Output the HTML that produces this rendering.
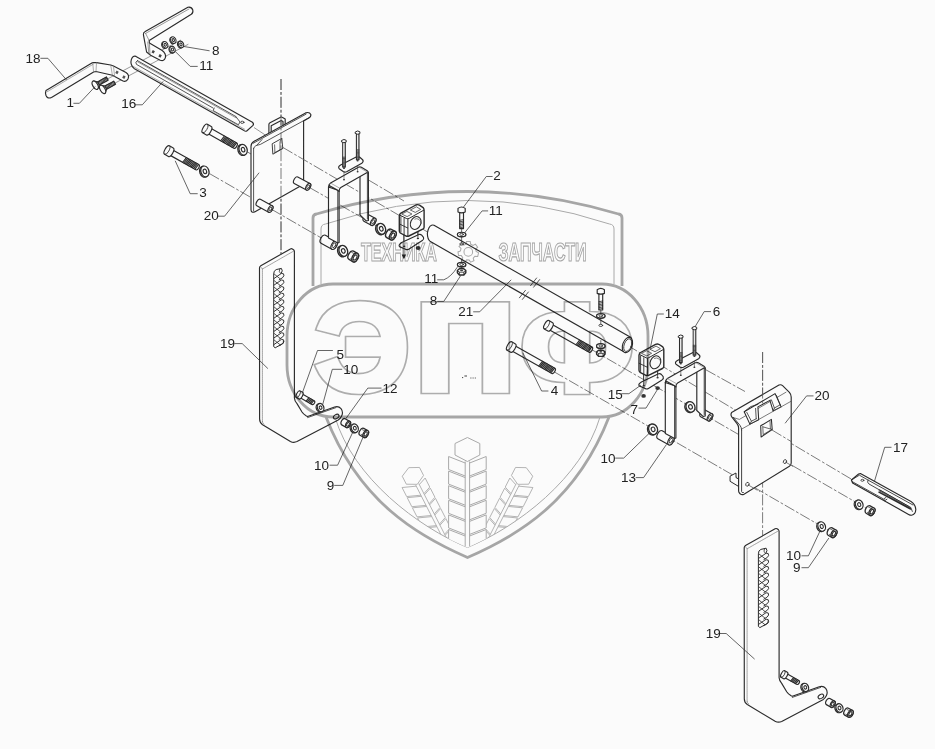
<!DOCTYPE html>
<html><head><meta charset="utf-8"><title>Схема</title>
<style>
html,body{margin:0;padding:0;background:#fbfbfb;overflow:hidden;}
svg{display:block;}
.wm{fill:none;stroke:#a9a9a9;stroke-width:2.8;stroke-linejoin:round;}
.wt{fill:none;stroke:#acacac;stroke-width:1;}
.wl{fill:none;stroke:#b0b0b0;stroke-width:1.6;font-family:"Liberation Sans",sans-serif;font-weight:bold;}
.p{fill:#fbfbfb;stroke:#2b2b2b;stroke-width:1.15;stroke-linejoin:round;stroke-linecap:round;}
.n{fill:none;stroke:#2b2b2b;stroke-width:1.15;stroke-linejoin:round;stroke-linecap:round;}
.t{fill:none;stroke:#777;stroke-width:.6;stroke-linecap:round;}
.ax{fill:none;stroke:#5a5a5a;stroke-width:.8;stroke-dasharray:11 2 2.8 2;}
.ld{fill:none;stroke:#333;stroke-width:.75;}
.lb{font-family:"Liberation Sans",sans-serif;font-size:13.5px;fill:#222;}
</style></head>
<body>
<svg width="935" height="749" viewBox="0 0 935 749">
<rect width="935" height="749" fill="#fbfbfb"/>
<!-- PARTS -->
<path class="ax" d="M283,147.5 L431,234"/>
<path class="ax" d="M627.6,345.4 L766,428.5 L852,479.5"/>
<path class="ax" d="M247.5,152 L395,236.5"/>
<path class="ax" d="M209.5,173.6 L357,258.5"/>
<path class="ax" d="M368.5,180 L404,201"/>
<path class="ax" d="M281,79 V256"/>
<path class="ax" d="M762.6,352 V540"/>
<path class="ax" d="M591.5,349.5 L871,511"/>
<path class="ax" d="M553.6,371.5 L834,533.5"/>
<path class="ax" d="M705.9,369.8 L745,391.5"/>
<path class="ld" d="M107,79.2 L181,40 M114.4,83.4 L188.4,44.2 M254,127.5 L266,135.5" style="stroke:#555;stroke-width:.6"/>
<path class="p" d="M46,90.5 L92.7,62.6 L96.5,62.6 L110.7,65 L113.5,66 L126,72.5 Q129.8,75 128,79 Q126,82.5 122.5,80.7 L112.4,75.3 L96,71.5 L93.6,72 L51.5,97.5 Q47.5,99.2 46,95.5 Q45,92.5 46,90.5 Z"/>
<path class="t" d="M46.8,92 L93.2,64.2 M92.7,62.6 L93.6,72 M96.5,62.6 L96,71.5 M110.7,65 L112.4,75.3 M113.5,66 L114.6,76.4"/>
<rect x="115.8" y="71" width="2.4" height="2.8" fill="#555" transform="rotate(28 117 72.4)"/><rect x="122.7" y="75.7" width="2.4" height="2.8" fill="#555" transform="rotate(28 123.9 77.1)"/>
<path class="p" d="M145.2,31.4 L187.9,7.2 Q191.5,6.5 192.8,10 Q193.4,12.8 191.3,14.3 L149.2,40.6 L149.4,43 L161.8,50.2 Q166.4,53.4 165.4,57.6 Q164,61.8 160.2,60.2 L150.6,55.2 L146.6,52 L143.4,34.6 Q143.2,32.4 145.2,31.4 Z"/>
<path class="t" d="M145.6,33.4 L189,9 M149.2,40.6 L145.6,33.4 M149.4,43 L150,54.6 M147.8,42 L148.8,53.6" style="stroke:#555"/>
<rect x="152" y="50.4" width="2.4" height="2.8" fill="#444" transform="rotate(28 153.2 51.8)"/><rect x="158.9" y="54.5" width="2.4" height="2.8" fill="#444" transform="rotate(28 160.1 55.9)"/>
<g transform="translate(95.2,85.2) rotate(-28.81)"><path class="p" d="M3,-1.8 H13.8 V1.8 H3 Z"/><path class="n" d="M4.5,-1.8 L3.7,1.8 M5.8,-1.8 L5.0,1.8 M7.1,-1.8 L6.3,1.8 M8.4,-1.8 L7.6,1.8 M9.7,-1.8 L8.9,1.8 M11.0,-1.8 L10.2,1.8 M12.3,-1.8 L11.5,1.8 M13.6,-1.8 L12.8,1.8 " style="stroke-width:.9"/><path class="p" d="M0,-4.6 L3.6,-1.8 V1.8 L0,4.6 Z"/><ellipse class="p" cx="0" cy="0" rx="2.4" ry="4.6"/></g>
<g transform="translate(102.6,89.4) rotate(-28.81)"><path class="p" d="M3,-1.8 H13.8 V1.8 H3 Z"/><path class="n" d="M4.5,-1.8 L3.7,1.8 M5.8,-1.8 L5.0,1.8 M7.1,-1.8 L6.3,1.8 M8.4,-1.8 L7.6,1.8 M9.7,-1.8 L8.9,1.8 M11.0,-1.8 L10.2,1.8 M12.3,-1.8 L11.5,1.8 M13.6,-1.8 L12.8,1.8 " style="stroke-width:.9"/><path class="p" d="M0,-4.6 L3.6,-1.8 V1.8 L0,4.6 Z"/><ellipse class="p" cx="0" cy="0" rx="2.4" ry="4.6"/></g>
<g transform="translate(165.2,44.8) rotate(-25)"><ellipse class="p" cx="-.9" cy="0" rx="2.6" ry="3.4" style="stroke-width:1.05"/><ellipse class="p" cx="0" cy="0" rx="2.6" ry="3.4" style="stroke-width:1.05"/><ellipse class="p" cx="0" cy="0" rx="1.1" ry="1.5" style="stroke-width:1"/></g>
<g transform="translate(173.3,40.1) rotate(-25)"><ellipse class="p" cx="-.9" cy="0" rx="2.6" ry="3.4" style="stroke-width:1.05"/><ellipse class="p" cx="0" cy="0" rx="2.6" ry="3.4" style="stroke-width:1.05"/><ellipse class="p" cx="0" cy="0" rx="1.1" ry="1.5" style="stroke-width:1"/></g>
<g transform="translate(172.5,49.5) rotate(-25)"><ellipse class="p" cx="-.9" cy="0" rx="2.6" ry="3.4" style="stroke-width:1.05"/><ellipse class="p" cx="0" cy="0" rx="2.6" ry="3.4" style="stroke-width:1.05"/><ellipse class="p" cx="0" cy="0" rx="1.1" ry="1.5" style="stroke-width:1"/></g>
<g transform="translate(181,44.4) rotate(-25)"><ellipse class="p" cx="-.9" cy="0" rx="2.6" ry="3.4" style="stroke-width:1.05"/><ellipse class="p" cx="0" cy="0" rx="2.6" ry="3.4" style="stroke-width:1.05"/><ellipse class="p" cx="0" cy="0" rx="1.1" ry="1.5" style="stroke-width:1"/></g>
<path class="p" d="M136,56.4 L252.4,122.3 Q254.2,123.8 253,125.4 L247,130.8 Q245.6,131.8 244,130.6 L134,68.4 Q129.8,64.5 131.3,59.6 Q133,55.2 136,56.4 Z"/>
<path class="n" d="M137.4,60.6 Q134.5,62 136.5,64.4 L213,108 M137.4,60.6 L236,116.6" style="stroke-width:.8"/>
<path class="t" d="M137.6,61.8 L236,117.8" style="stroke:#555"/>
<path class="t" d="M132.8,66.2 L244.6,129.2"/>
<path class="n" d="M214.2,108 L213.2,110.6 L238.4,124.8 L240,122 L236.2,117" style="stroke-width:.8"/>
<ellipse class="p" cx="242.3" cy="122.3" rx="1.7" ry="1.1" style="stroke-width:.8"/>
<g transform="translate(205,128.5) rotate(29.42)"><path class="p" d="M4.4,-3.0 L34.8,-3.0 Q36.4,-3.0 36.4,0 Q36.4,3.0 34.8,3.0 L4.4,3.0 Z"/><rect x="19.80" y="-2.5" width="15.00" height="5" fill="#a8a8a8"/><path class="t" d="M34.60,-3.0 L33.60,3.0 M33.20,-3.0 L32.20,3.0 M31.80,-3.0 L30.80,3.0 M30.40,-3.0 L29.40,3.0 M29.00,-3.0 L28.00,3.0 M27.60,-3.0 L26.60,3.0 M26.20,-3.0 L25.20,3.0 M24.80,-3.0 L23.80,3.0 M23.40,-3.0 L22.40,3.0 M22.00,-3.0 L21.00,3.0 M20.60,-3.0 L19.60,3.0 " style="stroke:#222;stroke-width:.9"/><path class="p" d="M0,-4.9 L4.4,-4.9 A2.06,4.9 0 0 1 4.4,4.9 L0,4.9 A2.06,4.9 0 0 1 0,-4.9 Z"/><path class="n" d="M0,-4.9 A2.06,4.9 0 0 1 0,4.9" style="stroke-width:.8"/></g>
<g transform="translate(243.1,149.7) rotate(-20)"><ellipse class="p" cx="-1.2" cy="0" rx="4" ry="5.5" style="stroke-width:1.3"/><ellipse class="p" cx="0" cy="0" rx="4" ry="5.5" style="stroke-width:1.3"/><ellipse class="p" cx="0" cy="0" rx="1.68" ry="2.31" style="stroke-width:1.10"/></g>
<g transform="translate(167,150.1) rotate(29.42)"><path class="p" d="M4.4,-3.0 L34.8,-3.0 Q36.4,-3.0 36.4,0 Q36.4,3.0 34.8,3.0 L4.4,3.0 Z"/><rect x="19.80" y="-2.5" width="15.00" height="5" fill="#a8a8a8"/><path class="t" d="M34.60,-3.0 L33.60,3.0 M33.20,-3.0 L32.20,3.0 M31.80,-3.0 L30.80,3.0 M30.40,-3.0 L29.40,3.0 M29.00,-3.0 L28.00,3.0 M27.60,-3.0 L26.60,3.0 M26.20,-3.0 L25.20,3.0 M24.80,-3.0 L23.80,3.0 M23.40,-3.0 L22.40,3.0 M22.00,-3.0 L21.00,3.0 M20.60,-3.0 L19.60,3.0 " style="stroke:#222;stroke-width:.9"/><path class="p" d="M0,-4.9 L4.4,-4.9 A2.06,4.9 0 0 1 4.4,4.9 L0,4.9 A2.06,4.9 0 0 1 0,-4.9 Z"/><path class="n" d="M0,-4.9 A2.06,4.9 0 0 1 0,4.9" style="stroke-width:.8"/></g>
<g transform="translate(204.9,171.4) rotate(-20)"><ellipse class="p" cx="-1.2" cy="0" rx="4" ry="5.5" style="stroke-width:1.3"/><ellipse class="p" cx="0" cy="0" rx="4" ry="5.5" style="stroke-width:1.3"/><ellipse class="p" cx="0" cy="0" rx="1.68" ry="2.31" style="stroke-width:1.10"/></g>
<path class="p" d="M268.9,133.5 V124.4 Q268.9,123.4 270,122.8 L280.6,117.2 Q281.6,116.8 282.6,117.4 L285.2,119 V128 L283,129 V121.4 L281.2,120.4 L271.2,125.8 V133 Z"/>
<path class="p" d="M251,146.5 Q251,143 253.8,141.4 L305.6,112.9 Q309.4,111.6 310.8,114.4 Q311.2,116.6 309.2,117.8 L303.6,121 V184.2 L254.6,211.9 Q251.2,213.2 251,209.6 Z"/>
<path class="n" d="M253.6,148.5 V210.8 M253.6,148.5 Q254,146.6 256,145.6 L260.4,144.4 L309.6,117.4 M257,145 L262,139.6 M253,143.4 L306,114.2" style="stroke-width:.8"/>
<path class="n" d="M272.5,143.6 L281.8,138.4 L282.8,148.6 L273.2,154 Z" style="stroke-width:.9"/>
<path class="n" d="M274.6,144.8 L274.9,152.6 M274.9,152.6 L282.6,148.2 M281.8,138.4 L280,141.8 V149.6" style="stroke-width:.7"/>
<g transform="translate(258.6,202.6) rotate(28.47)"><path class="p" d="M0,-3.7 H13.42 A2.04,3.7 0 0 1 13.42,3.7 H0 A2.04,3.7 0 0 1 0,-3.7 Z"/><ellipse class="p" cx="13.42" cy="0" rx="2.04" ry="3.7"/><ellipse class="p" cx="13.42" cy="0" rx="1.12" ry="2.15" style="stroke-width:0.80"/></g>
<g transform="translate(296,180.2) rotate(28.41)"><path class="p" d="M0,-3.7 H13.87 A2.04,3.7 0 0 1 13.87,3.7 H0 A2.04,3.7 0 0 1 0,-3.7 Z"/><ellipse class="p" cx="13.87" cy="0" rx="2.04" ry="3.7"/><ellipse class="p" cx="13.87" cy="0" rx="1.12" ry="2.15" style="stroke-width:0.80"/></g>
<g transform="translate(0,0)">
<g transform="translate(702.6,413.2) rotate(28.99)"><path class="p" d="M0,-4.0 H8.46 A2.20,4.0 0 0 1 8.46,4.0 H0 A2.20,4.0 0 0 1 0,-4.0 Z"/><ellipse class="p" cx="8.46" cy="0" rx="2.20" ry="4.0"/><ellipse class="p" cx="8.46" cy="0" rx="1.21" ry="2.32" style="stroke-width:0.80"/></g>
<path class="p" d="M696.8,366 V410.5 L703,416.4 L705.2,416 V368 Z"/>
<path class="n" d="M704.2,368.5 V414.5" style="stroke-width:.8"/>
<g transform="translate(660,434.8) rotate(28.43)"><path class="p" d="M0,-4.6 H12.39 A2.53,4.6 0 0 1 12.39,4.6 H0 A2.53,4.6 0 0 1 0,-4.6 Z"/><ellipse class="p" cx="12.39" cy="0" rx="2.53" ry="4.6"/><ellipse class="p" cx="12.39" cy="0" rx="1.39" ry="2.67" style="stroke-width:0.80"/></g>
<path class="p" d="M665.3,382.5 V433.5 L674.6,438.6 L675.9,438 V386.5 L674.6,385.6 Z"/>
<path class="n" d="M674.6,386 V438.4" style="stroke-width:.9"/>
<path class="p" d="M665.3,382.8 Q665.3,380 667.4,378.6 L695.2,362.7 Q696.8,362 698.2,362.8 L704,366.3 Q705.3,367.2 705.2,369 L704.4,367.8 L677.6,382.9 Q675.9,384 675.9,387 L674.6,385.8 L666.4,381.2 Z"/>
<path class="t" d="M667.4,378.6 L676.4,383.6 M695.6,362.6 L704.4,367.8"/>
<path class="t" d="M680.8,364 V375 M694.4,356 V367" style="stroke:#444"/>
<ellipse cx="680.8" cy="375.2" rx="1" ry=".7" fill="#333"/><ellipse cx="694.4" cy="367.2" rx="1" ry=".7" fill="#333"/>
<path class="p" d="M677.4,360.4 L693,352.4 Q695,351.6 696.6,352.8 L699.4,355.2 Q700.8,357 698.6,358.8 L683.4,367.2 Q681.6,368 680,367 L676,364.2 Q674.4,362.2 677.4,360.4 Z"/>
<ellipse cx="680.8" cy="363.7" rx="1.1" ry=".8" fill="#333"/><ellipse cx="694.4" cy="356.2" rx="1.1" ry=".8" fill="#333"/>
<path class="p" d="M679.5,337.6 V362.6 H682.0999999999999 V337.6 Z" style="stroke-width:1.05;fill:#c4c4c4"/>
<path class="t" d="M679.5,361.8 H682.0999999999999 M679.5,360.5 H682.0999999999999 M679.5,359.2 H682.0999999999999 M679.5,357.9 H682.0999999999999 M679.5,356.6 H682.0999999999999 M679.5,355.3 H682.0999999999999 M679.5,354.0 H682.0999999999999 M679.5,352.7 H682.0999999999999 " style="stroke-width:.7;stroke:#333"/>
<path class="t" d="M680.5999999999999,338 V351.6" style="stroke:#fff;stroke-width:.7"/>
<path class="p" d="M678.5999999999999,335.8 Q680.8,334 683.0,335.8 V337.6 Q680.8,339 678.5999999999999,337.6 Z" style="stroke-width:1"/>
<path class="p" d="M693.2,329.1 V355.2 H695.8 V329.1 Z" style="stroke-width:1.05;fill:#c4c4c4"/>
<path class="t" d="M693.2,354.4 H695.8 M693.2,353.1 H695.8 M693.2,351.8 H695.8 M693.2,350.5 H695.8 M693.2,349.2 H695.8 M693.2,347.9 H695.8 M693.2,346.6 H695.8 M693.2,345.3 H695.8 " style="stroke-width:.7;stroke:#333"/>
<path class="t" d="M694.3,329.5 V344.2" style="stroke:#fff;stroke-width:.7"/>
<path class="p" d="M692.3,327.3 Q694.5,325.5 696.7,327.3 V329.1 Q694.5,330.5 692.3,329.1 Z" style="stroke-width:1"/>
</g>
<g transform="translate(-336.8,-195.5)">
<g transform="translate(702.6,413.2) rotate(28.99)"><path class="p" d="M0,-4.0 H8.46 A2.20,4.0 0 0 1 8.46,4.0 H0 A2.20,4.0 0 0 1 0,-4.0 Z"/><ellipse class="p" cx="8.46" cy="0" rx="2.20" ry="4.0"/><ellipse class="p" cx="8.46" cy="0" rx="1.21" ry="2.32" style="stroke-width:0.80"/></g>
<path class="p" d="M696.8,366 V410.5 L703,416.4 L705.2,416 V368 Z"/>
<path class="n" d="M704.2,368.5 V414.5" style="stroke-width:.8"/>
<g transform="translate(660,434.8) rotate(28.43)"><path class="p" d="M0,-4.6 H12.39 A2.53,4.6 0 0 1 12.39,4.6 H0 A2.53,4.6 0 0 1 0,-4.6 Z"/><ellipse class="p" cx="12.39" cy="0" rx="2.53" ry="4.6"/><ellipse class="p" cx="12.39" cy="0" rx="1.39" ry="2.67" style="stroke-width:0.80"/></g>
<path class="p" d="M665.3,382.5 V433.5 L674.6,438.6 L675.9,438 V386.5 L674.6,385.6 Z"/>
<path class="n" d="M674.6,386 V438.4" style="stroke-width:.9"/>
<path class="p" d="M665.3,382.8 Q665.3,380 667.4,378.6 L695.2,362.7 Q696.8,362 698.2,362.8 L704,366.3 Q705.3,367.2 705.2,369 L704.4,367.8 L677.6,382.9 Q675.9,384 675.9,387 L674.6,385.8 L666.4,381.2 Z"/>
<path class="t" d="M667.4,378.6 L676.4,383.6 M695.6,362.6 L704.4,367.8"/>
<path class="t" d="M680.8,364 V375 M694.4,356 V367" style="stroke:#444"/>
<ellipse cx="680.8" cy="375.2" rx="1" ry=".7" fill="#333"/><ellipse cx="694.4" cy="367.2" rx="1" ry=".7" fill="#333"/>
<path class="p" d="M677.4,360.4 L693,352.4 Q695,351.6 696.6,352.8 L699.4,355.2 Q700.8,357 698.6,358.8 L683.4,367.2 Q681.6,368 680,367 L676,364.2 Q674.4,362.2 677.4,360.4 Z"/>
<ellipse cx="680.8" cy="363.7" rx="1.1" ry=".8" fill="#333"/><ellipse cx="694.4" cy="356.2" rx="1.1" ry=".8" fill="#333"/>
<path class="p" d="M679.5,337.6 V362.6 H682.0999999999999 V337.6 Z" style="stroke-width:1.05;fill:#c4c4c4"/>
<path class="t" d="M679.5,361.8 H682.0999999999999 M679.5,360.5 H682.0999999999999 M679.5,359.2 H682.0999999999999 M679.5,357.9 H682.0999999999999 M679.5,356.6 H682.0999999999999 M679.5,355.3 H682.0999999999999 M679.5,354.0 H682.0999999999999 M679.5,352.7 H682.0999999999999 " style="stroke-width:.7;stroke:#333"/>
<path class="t" d="M680.5999999999999,338 V351.6" style="stroke:#fff;stroke-width:.7"/>
<path class="p" d="M678.5999999999999,335.8 Q680.8,334 683.0,335.8 V337.6 Q680.8,339 678.5999999999999,337.6 Z" style="stroke-width:1"/>
<path class="p" d="M693.2,329.1 V355.2 H695.8 V329.1 Z" style="stroke-width:1.05;fill:#c4c4c4"/>
<path class="t" d="M693.2,354.4 H695.8 M693.2,353.1 H695.8 M693.2,351.8 H695.8 M693.2,350.5 H695.8 M693.2,349.2 H695.8 M693.2,347.9 H695.8 M693.2,346.6 H695.8 M693.2,345.3 H695.8 " style="stroke-width:.7;stroke:#333"/>
<path class="t" d="M694.3,329.5 V344.2" style="stroke:#fff;stroke-width:.7"/>
<path class="p" d="M692.3,327.3 Q694.5,325.5 696.7,327.3 V329.1 Q694.5,330.5 692.3,329.1 Z" style="stroke-width:1"/>
</g>
<g transform="translate(343.3,250.9) rotate(-20)"><ellipse class="p" cx="-1.4" cy="0" rx="4.2" ry="5.6" style="stroke-width:1.35"/><ellipse class="p" cx="0" cy="0" rx="4.2" ry="5.6" style="stroke-width:1.35"/><ellipse class="p" cx="0" cy="0" rx="1.76" ry="2.35" style="stroke-width:1.15"/></g>
<g transform="translate(351.3,255.34999999999997) rotate(28.93)"><path class="p" style="stroke-width:1.4" d="M0,-4.7 H4.34 A2.82,4.7 0 0 1 4.34,4.7 H0 A2.82,4.7 0 0 1 0,-4.7 Z"/><ellipse class="p" style="stroke-width:1.4" cx="4.34" cy="0" rx="2.82" ry="4.7"/><ellipse class="p" cx="4.34" cy="0" rx="1.55" ry="2.73" style="stroke-width:1.12"/></g>
<path class="t" d="M351.59999999999997,252.29999999999998 L355.4,254.29999999999998 M350.59999999999997,258.7 L354.2,260.7" style="stroke:#333;stroke-width:.7"/>
<g transform="translate(381.3,228.8) rotate(-20)"><ellipse class="p" cx="-1.4" cy="0" rx="4.2" ry="5.6" style="stroke-width:1.35"/><ellipse class="p" cx="0" cy="0" rx="4.2" ry="5.6" style="stroke-width:1.35"/><ellipse class="p" cx="0" cy="0" rx="1.76" ry="2.35" style="stroke-width:1.15"/></g>
<g transform="translate(389.0,233.45) rotate(28.93)"><path class="p" style="stroke-width:1.4" d="M0,-4.7 H4.34 A2.82,4.7 0 0 1 4.34,4.7 H0 A2.82,4.7 0 0 1 0,-4.7 Z"/><ellipse class="p" style="stroke-width:1.4" cx="4.34" cy="0" rx="2.82" ry="4.7"/><ellipse class="p" cx="4.34" cy="0" rx="1.55" ry="2.73" style="stroke-width:1.12"/></g>
<path class="t" d="M389.29999999999995,230.4 L393.09999999999997,232.4 M388.29999999999995,236.79999999999998 L391.9,238.79999999999998" style="stroke:#333;stroke-width:.7"/>
<g transform="translate(690.5,406.9) rotate(-20)"><ellipse class="p" cx="-1.2" cy="0" rx="4.4" ry="5.4" style="stroke-width:1.3"/><ellipse class="p" cx="0" cy="0" rx="4.4" ry="5.4" style="stroke-width:1.3"/><ellipse class="p" cx="0" cy="0" rx="1.85" ry="2.27" style="stroke-width:1.10"/></g>
<g transform="translate(653.1,429.3) rotate(-20)"><ellipse class="p" cx="-1.2" cy="0" rx="4.4" ry="5.4" style="stroke-width:1.3"/><ellipse class="p" cx="0" cy="0" rx="4.4" ry="5.4" style="stroke-width:1.3"/><ellipse class="p" cx="0" cy="0" rx="1.85" ry="2.27" style="stroke-width:1.10"/></g>
<g transform="translate(0,0.9)">
<path class="t" d="M643.6,372 V385 M657.6,367 V377" style="stroke:#333;stroke-width:.8"/>
<path class="p" d="M641.4,381 L658.6,372.9 Q660.2,372.4 661.4,373.6 L663.2,375.8 Q664,377.6 662,379 L648.4,387.6 Q646.8,388.6 645.2,387.6 L639.2,385 Q637.8,383.4 641.4,381 Z"/>
<ellipse cx="643.8" cy="384.8" rx="1.2" ry=".8" fill="#333"/><ellipse cx="657.6" cy="376.9" rx="1.2" ry=".8" fill="#333"/>
<path class="t" d="M643.6,372 V384 M657.6,367 V376.4" style="stroke:#333;stroke-width:.8"/>
<path class="p" d="M639,354.4 Q639,352.6 640.6,351.6 L655.6,343.4 Q657.4,342.6 659.2,343.6 L662.8,346 Q663.8,347 663.8,348.8 V365.6 Q663.8,366.8 662.4,367.6 L648.6,374.4 Q647,375 645.4,374.2 L640,371.4 Q639,370.6 639,369.2 Z" style="stroke-width:1.4"/>
<path class="n" d="M639.6,353.6 L646.4,357 Q647.6,357.4 648.8,356.8 L663.4,348.6 M647.6,357.6 V374.4" style="stroke-width:1"/>
<path class="n" d="M640.6,355 V370.6 M643.8,356.8 V373 M639.2,362.4 L647.4,366.4" style="stroke-width:.9"/>
<path class="n" d="M641.8,352.6 L646.8,355 L651.6,352.4 L647,350 Z M650.4,348.6 L655,350.8 L660.4,347.8 L656.4,345.4 Z" style="stroke-width:.7"/>
<g transform="translate(655.4,361.4) rotate(24)"><ellipse class="p" cx="0" cy="0" rx="5.1" ry="6.7" style="stroke-width:1.1"/><path class="t" d="M-3.4,-4.4 A5.1,6.7 0 0 1 4.2,-3" transform="translate(.9,1.2)" style="stroke:#444"/></g>
<ellipse cx="643.6" cy="395" rx="2.3" ry="1.9" fill="#333"/><ellipse cx="657.6" cy="387.2" rx="2.3" ry="1.9" fill="#333"/>
</g>
<g transform="translate(-239.7,-138.4)">
<path class="t" d="M643.6,372 V385 M657.6,367 V377" style="stroke:#333;stroke-width:.8"/>
<path class="p" d="M641.4,381 L658.6,372.9 Q660.2,372.4 661.4,373.6 L663.2,375.8 Q664,377.6 662,379 L648.4,387.6 Q646.8,388.6 645.2,387.6 L639.2,385 Q637.8,383.4 641.4,381 Z"/>
<ellipse cx="643.8" cy="384.8" rx="1.2" ry=".8" fill="#333"/><ellipse cx="657.6" cy="376.9" rx="1.2" ry=".8" fill="#333"/>
<path class="t" d="M643.6,372 V384 M657.6,367 V376.4" style="stroke:#333;stroke-width:.8"/>
<path class="p" d="M639,354.4 Q639,352.6 640.6,351.6 L655.6,343.4 Q657.4,342.6 659.2,343.6 L662.8,346 Q663.8,347 663.8,348.8 V365.6 Q663.8,366.8 662.4,367.6 L648.6,374.4 Q647,375 645.4,374.2 L640,371.4 Q639,370.6 639,369.2 Z" style="stroke-width:1.4"/>
<path class="n" d="M639.6,353.6 L646.4,357 Q647.6,357.4 648.8,356.8 L663.4,348.6 M647.6,357.6 V374.4" style="stroke-width:1"/>
<path class="n" d="M640.6,355 V370.6 M643.8,356.8 V373 M639.2,362.4 L647.4,366.4" style="stroke-width:.9"/>
<path class="n" d="M641.8,352.6 L646.8,355 L651.6,352.4 L647,350 Z M650.4,348.6 L655,350.8 L660.4,347.8 L656.4,345.4 Z" style="stroke-width:.7"/>
<g transform="translate(655.4,361.4) rotate(24)"><ellipse class="p" cx="0" cy="0" rx="5.1" ry="6.7" style="stroke-width:1.1"/><path class="t" d="M-3.4,-4.4 A5.1,6.7 0 0 1 4.2,-3" transform="translate(.9,1.2)" style="stroke:#444"/></g>
<path class="t" d="M643.6,386 V396" style="stroke:#333;stroke-width:.8"/><path d="M641.4,393 H645.8 L643.6,397.6 Z" fill="#222"/>
<ellipse cx="657.8" cy="386.4" rx="2.4" ry="2" fill="#333"/>
</g>
<path class="p" d="M434,225.3 L631,337.4 L623.4,351.4 L430.4,241.6 Q427.2,239 427.4,233 Q428.4,226.4 431.6,225.2 Q432.8,224.8 434,225.3 Z"/>
<g transform="translate(627.4,345) rotate(20)"><ellipse class="p" cx="0" cy="0" rx="4.7" ry="7.9"/><ellipse class="p" cx="0.4" cy="0" rx="3.6" ry="6.6" style="stroke-width:.8"/></g>
<path class="n" d="M530.6,285.6 L536.6,278 M533.6,287.2 L539.6,279.6 M519.4,297.8 L525.4,290.4 M522.4,299.4 L528.4,292" style="stroke-width:.8"/>
<path class="t" d="M461.6,227.2 V244.2 M461.6,259.2 V273.2" style="stroke:#333;stroke-width:.7"/>
<g transform="translate(461.6,207.2)"><path class="p" d="M-1.9,4.8 V21.4 H1.9 V4.8 Z"/><path class="t" d="M-1.9,20.60 L1.9,19.90 M-1.9,19.10 L1.9,18.40 M-1.9,17.60 L1.9,16.90 M-1.9,16.10 L1.9,15.40 M-1.9,14.60 L1.9,13.90 M-1.9,13.10 L1.9,12.40 " style="stroke:#222;stroke-width:.8"/><path class="p" d="M-3.6,1.2 Q0,-1.6 3.6,1.2 V4.8 Q0,6.4 -3.6,4.8 Z"/></g>
<ellipse class="p" cx="461.6" cy="234.79999999999998" rx="4.2" ry="2.2"/><ellipse class="p" cx="461.6" cy="234.39999999999998" rx="4.2" ry="2.2"/><ellipse class="p" cx="461.6" cy="234.39999999999998" rx="1.8" ry="1" style="stroke-width:.8"/>
<ellipse class="p" cx="461.6" cy="244.0" rx="1.9" ry="1.1" style="stroke-width:.8"/>
<ellipse class="p" cx="461.6" cy="265.0" rx="4.2" ry="2.2"/><ellipse class="p" cx="461.6" cy="264.5" rx="4.2" ry="2.2"/><ellipse class="p" cx="461.6" cy="264.5" rx="1.8" ry="1" style="stroke-width:.8"/>
<path class="p" d="M457.40000000000003,270.59999999999997 L459.40000000000003,268.8 H463.8 L465.8,270.59999999999997 V272.79999999999995 L463.8,275.0 H459.40000000000003 L457.40000000000003,272.79999999999995 Z" style="stroke-width:1.4"/>
<path class="n" d="M457.40000000000003,270.59999999999997 L459.40000000000003,272.2 H463.8 L465.8,270.59999999999997 M459.40000000000003,272.2 V274.79999999999995 M463.8,272.2 V274.79999999999995" style="stroke-width:.8"/>
<ellipse cx="461.6" cy="270.5" rx="1.6" ry=".8" fill="#444"/>
<path class="t" d="M600.8,308.6 V325.6 M600.8,340.6 V354.6" style="stroke:#333;stroke-width:.7"/>
<g transform="translate(600.8,288.6)"><path class="p" d="M-1.9,4.8 V21.4 H1.9 V4.8 Z"/><path class="t" d="M-1.9,20.60 L1.9,19.90 M-1.9,19.10 L1.9,18.40 M-1.9,17.60 L1.9,16.90 M-1.9,16.10 L1.9,15.40 M-1.9,14.60 L1.9,13.90 M-1.9,13.10 L1.9,12.40 " style="stroke:#222;stroke-width:.8"/><path class="p" d="M-3.6,1.2 Q0,-1.6 3.6,1.2 V4.8 Q0,6.4 -3.6,4.8 Z"/></g>
<ellipse class="p" cx="600.8" cy="316.20000000000005" rx="4.2" ry="2.2"/><ellipse class="p" cx="600.8" cy="315.8" rx="4.2" ry="2.2"/><ellipse class="p" cx="600.8" cy="315.8" rx="1.8" ry="1" style="stroke-width:.8"/>
<ellipse class="p" cx="600.8" cy="325.40000000000003" rx="1.9" ry="1.1" style="stroke-width:.8"/>
<ellipse class="p" cx="600.8" cy="346.40000000000003" rx="4.2" ry="2.2"/><ellipse class="p" cx="600.8" cy="345.90000000000003" rx="4.2" ry="2.2"/><ellipse class="p" cx="600.8" cy="345.90000000000003" rx="1.8" ry="1" style="stroke-width:.8"/>
<path class="p" d="M596.5999999999999,352.0 L598.5999999999999,350.20000000000005 H603.0 L605.0,352.0 V354.20000000000005 L603.0,356.40000000000003 H598.5999999999999 L596.5999999999999,354.20000000000005 Z" style="stroke-width:1.4"/>
<path class="n" d="M596.5999999999999,352.0 L598.5999999999999,353.6 H603.0 L605.0,352.0 M598.5999999999999,353.6 V356.20000000000005 M603.0,353.6 V356.20000000000005" style="stroke-width:.8"/>
<ellipse cx="600.8" cy="351.90000000000003" rx="1.6" ry=".8" fill="#444"/>
<g transform="translate(546.6,324.8) rotate(29.42)"><path class="p" d="M4.2,-3.0 L50.5,-3.0 Q52.1,-3.0 52.1,0 Q52.1,3.0 50.5,3.0 L4.2,3.0 Z"/><rect x="35.50" y="-2.5" width="15.00" height="5" fill="#a8a8a8"/><path class="t" d="M50.30,-3.0 L49.30,3.0 M48.90,-3.0 L47.90,3.0 M47.50,-3.0 L46.50,3.0 M46.10,-3.0 L45.10,3.0 M44.70,-3.0 L43.70,3.0 M43.30,-3.0 L42.30,3.0 M41.90,-3.0 L40.90,3.0 M40.50,-3.0 L39.50,3.0 M39.10,-3.0 L38.10,3.0 M37.70,-3.0 L36.70,3.0 M36.30,-3.0 L35.30,3.0 " style="stroke:#222;stroke-width:.9"/><path class="p" d="M0,-4.8 L4.2,-4.8 A2.02,4.8 0 0 1 4.2,4.8 L0,4.8 A2.02,4.8 0 0 1 0,-4.8 Z"/><path class="n" d="M0,-4.8 A2.02,4.8 0 0 1 0,4.8" style="stroke-width:.8"/></g>
<g transform="translate(509.4,346) rotate(29.42)"><path class="p" d="M4.2,-3.0 L50.5,-3.0 Q52.1,-3.0 52.1,0 Q52.1,3.0 50.5,3.0 L4.2,3.0 Z"/><rect x="35.50" y="-2.5" width="15.00" height="5" fill="#a8a8a8"/><path class="t" d="M50.30,-3.0 L49.30,3.0 M48.90,-3.0 L47.90,3.0 M47.50,-3.0 L46.50,3.0 M46.10,-3.0 L45.10,3.0 M44.70,-3.0 L43.70,3.0 M43.30,-3.0 L42.30,3.0 M41.90,-3.0 L40.90,3.0 M40.50,-3.0 L39.50,3.0 M39.10,-3.0 L38.10,3.0 M37.70,-3.0 L36.70,3.0 M36.30,-3.0 L35.30,3.0 " style="stroke:#222;stroke-width:.9"/><path class="p" d="M0,-4.8 L4.2,-4.8 A2.02,4.8 0 0 1 4.2,4.8 L0,4.8 A2.02,4.8 0 0 1 0,-4.8 Z"/><path class="n" d="M0,-4.8 A2.02,4.8 0 0 1 0,4.8" style="stroke-width:.8"/></g>
<g transform="translate(0,0)">
<path class="p" d="M259.5,268 Q259.5,266.6 260.8,265.8 L290.4,248.9 Q291.4,248.4 292.4,249 L293.8,250 Q294.4,250.6 294.4,251.6 V398 Q294.6,401 297,403.6 L302,412 Q303.4,414.2 306.4,416 L307.6,416.5 L334.6,407 Q338.6,405.8 341,408.6 Q343.6,412 341.6,416 Q340.4,418.6 338.2,420 L297,441.6 Q293.6,443.2 290.4,441.4 L262.6,424.8 Q259.6,422.8 259.6,419 Z"/>
<path class="t" d="M262.4,269 V421.5 M260.4,266.6 L262.4,269 L293.8,251 M262.4,421.5 Q262.6,423.4 264.4,424.4" style="stroke:#666;stroke-dasharray:1.2 .8"/>
<path class="n" d="M307.6,417.6 L336,407.6" style="stroke-width:.8"/>
<path class="n" d="M281.4,273.2 Q283.2,270.6 281.4,268.4 L276.2,269.6 Q273.6,270.6 273.7,274 V346.6 L275.2,347.8 L283.4,343.2 V341" style="stroke-width:1"/>
<path class="n" d="M274.2,278.4 L281.4,273.4 Q284.4,273.0 283.9,275.8 Q283.4,277.8 279.2,279.8 M274.2,285.0 L281.4,280.0 Q284.4,279.6 283.9,282.4 Q283.4,284.4 279.2,286.4 M274.2,291.6 L281.4,286.6 Q284.4,286.2 283.9,289.0 Q283.4,291.0 279.2,293.0 M274.2,298.2 L281.4,293.2 Q284.4,292.8 283.9,295.6 Q283.4,297.6 279.2,299.6 M274.2,304.8 L281.4,299.8 Q284.4,299.4 283.9,302.2 Q283.4,304.2 279.2,306.2 M274.2,311.4 L281.4,306.4 Q284.4,306.0 283.9,308.8 Q283.4,310.8 279.2,312.8 M274.2,318.0 L281.4,313.0 Q284.4,312.6 283.9,315.4 Q283.4,317.4 279.2,319.4 M274.2,324.6 L281.4,319.6 Q284.4,319.2 283.9,322.0 Q283.4,324.0 279.2,326.0 M274.2,331.2 L281.4,326.2 Q284.4,325.8 283.9,328.6 Q283.4,330.6 279.2,332.6 M274.2,337.8 L281.4,332.8 Q284.4,332.4 283.9,335.2 Q283.4,337.2 279.2,339.2 M274.2,344.4 L281.4,339.4 Q284.4,339.0 283.9,341.8 Q283.4,343.8 279.2,345.8 " style="stroke-width:.95"/>
<path class="n" d="M274.4,274.2 L280.4,279.0 M274.4,280.8 L280.4,285.6 M274.4,287.4 L280.4,292.2 M274.4,294.0 L280.4,298.8 M274.4,300.6 L280.4,305.4 M274.4,307.2 L280.4,312.0 M274.4,313.8 L280.4,318.6 M274.4,320.4 L280.4,325.2 M274.4,327.0 L280.4,331.8 M274.4,333.6 L280.4,338.4 M274.4,340.2 L280.4,345.0 " style="stroke-width:.8"/>
<path class="n" d="M279.6,269.2 Q278.4,271.6 280.4,273.4" style="stroke-width:.8"/>
<g transform="translate(336.2,416.6) rotate(-30)"><ellipse class="p" cx="0" cy="0" rx="3" ry="2" style="stroke-width:1.1"/></g>
<g transform="translate(298.2,394.2) rotate(29.42)"><path class="p" d="M3,-2.2 L17,-2.2 Q18.6,-2.2 18.6,0 Q18.6,2.2 17,2.2 L3,2.2 Z"/><rect x="10.00" y="-1.7000000000000002" width="7.00" height="3.4000000000000004" fill="#a8a8a8"/><path class="t" d="M16.80,-2.2 L15.80,2.2 M15.40,-2.2 L14.40,2.2 M14.00,-2.2 L13.00,2.2 M12.60,-2.2 L11.60,2.2 M11.20,-2.2 L10.20,2.2 " style="stroke:#222;stroke-width:.9"/><path class="p" d="M0,-3.8 L3,-3.8 A1.60,3.8 0 0 1 3,3.8 L0,3.8 A1.60,3.8 0 0 1 0,-3.8 Z"/><path class="n" d="M0,-3.8 A1.60,3.8 0 0 1 0,3.8" style="stroke-width:.8"/></g>
<g transform="translate(320.6,407.6) rotate(-20)"><ellipse class="p" cx="-1.2" cy="0" rx="3.2" ry="4.2" style="stroke-width:1.25"/><ellipse class="p" cx="0" cy="0" rx="3.2" ry="4.2" style="stroke-width:1.25"/><ellipse class="p" cx="0" cy="0" rx="1.34" ry="1.76" style="stroke-width:1.06"/></g>
<g transform="translate(343.4,421.8) rotate(29.48)"><path class="p" style="stroke-width:1.25" d="M0,-3.5 H5.28 A2.10,3.5 0 0 1 5.28,3.5 H0 A2.10,3.5 0 0 1 0,-3.5 Z"/><ellipse class="p" style="stroke-width:1.25" cx="5.28" cy="0" rx="2.10" ry="3.5"/><ellipse class="p" cx="5.28" cy="0" rx="1.16" ry="2.03" style="stroke-width:1.00"/></g>
<g transform="translate(354.8,428.2) rotate(-20)"><ellipse class="p" cx="-1.2" cy="0" rx="3.4" ry="4.4" style="stroke-width:1.25"/><ellipse class="p" cx="0" cy="0" rx="3.4" ry="4.4" style="stroke-width:1.25"/><ellipse class="p" cx="0" cy="0" rx="1.43" ry="1.85" style="stroke-width:1.06"/></g>
<g transform="translate(361.90000000000003,431.84999999999997) rotate(28.93)"><path class="p" style="stroke-width:1.3" d="M0,-3.9 H4.34 A2.34,3.9 0 0 1 4.34,3.9 H0 A2.34,3.9 0 0 1 0,-3.9 Z"/><ellipse class="p" style="stroke-width:1.3" cx="4.34" cy="0" rx="2.34" ry="3.9"/><ellipse class="p" cx="4.34" cy="0" rx="1.29" ry="2.26" style="stroke-width:1.04"/></g>
<path class="t" d="M362.2,429.6 L366.0,431.6 M361.2,434.4 L364.8,436.4" style="stroke:#333;stroke-width:.7"/>
</g>
<g transform="translate(484.7,279.8)">
<path class="p" d="M259.5,268 Q259.5,266.6 260.8,265.8 L290.4,248.9 Q291.4,248.4 292.4,249 L293.8,250 Q294.4,250.6 294.4,251.6 V398 Q294.6,401 297,403.6 L302,412 Q303.4,414.2 306.4,416 L307.6,416.5 L334.6,407 Q338.6,405.8 341,408.6 Q343.6,412 341.6,416 Q340.4,418.6 338.2,420 L297,441.6 Q293.6,443.2 290.4,441.4 L262.6,424.8 Q259.6,422.8 259.6,419 Z"/>
<path class="t" d="M262.4,269 V421.5 M260.4,266.6 L262.4,269 L293.8,251 M262.4,421.5 Q262.6,423.4 264.4,424.4" style="stroke:#666;stroke-dasharray:1.2 .8"/>
<path class="n" d="M307.6,417.6 L336,407.6" style="stroke-width:.8"/>
<path class="n" d="M281.4,273.2 Q283.2,270.6 281.4,268.4 L276.2,269.6 Q273.6,270.6 273.7,274 V346.6 L275.2,347.8 L283.4,343.2 V341" style="stroke-width:1"/>
<path class="n" d="M274.2,278.4 L281.4,273.4 Q284.4,273.0 283.9,275.8 Q283.4,277.8 279.2,279.8 M274.2,285.0 L281.4,280.0 Q284.4,279.6 283.9,282.4 Q283.4,284.4 279.2,286.4 M274.2,291.6 L281.4,286.6 Q284.4,286.2 283.9,289.0 Q283.4,291.0 279.2,293.0 M274.2,298.2 L281.4,293.2 Q284.4,292.8 283.9,295.6 Q283.4,297.6 279.2,299.6 M274.2,304.8 L281.4,299.8 Q284.4,299.4 283.9,302.2 Q283.4,304.2 279.2,306.2 M274.2,311.4 L281.4,306.4 Q284.4,306.0 283.9,308.8 Q283.4,310.8 279.2,312.8 M274.2,318.0 L281.4,313.0 Q284.4,312.6 283.9,315.4 Q283.4,317.4 279.2,319.4 M274.2,324.6 L281.4,319.6 Q284.4,319.2 283.9,322.0 Q283.4,324.0 279.2,326.0 M274.2,331.2 L281.4,326.2 Q284.4,325.8 283.9,328.6 Q283.4,330.6 279.2,332.6 M274.2,337.8 L281.4,332.8 Q284.4,332.4 283.9,335.2 Q283.4,337.2 279.2,339.2 M274.2,344.4 L281.4,339.4 Q284.4,339.0 283.9,341.8 Q283.4,343.8 279.2,345.8 " style="stroke-width:.95"/>
<path class="n" d="M274.4,274.2 L280.4,279.0 M274.4,280.8 L280.4,285.6 M274.4,287.4 L280.4,292.2 M274.4,294.0 L280.4,298.8 M274.4,300.6 L280.4,305.4 M274.4,307.2 L280.4,312.0 M274.4,313.8 L280.4,318.6 M274.4,320.4 L280.4,325.2 M274.4,327.0 L280.4,331.8 M274.4,333.6 L280.4,338.4 M274.4,340.2 L280.4,345.0 " style="stroke-width:.8"/>
<path class="n" d="M279.6,269.2 Q278.4,271.6 280.4,273.4" style="stroke-width:.8"/>
<g transform="translate(336.2,416.6) rotate(-30)"><ellipse class="p" cx="0" cy="0" rx="3" ry="2" style="stroke-width:1.1"/></g>
<g transform="translate(298.2,394.2) rotate(29.42)"><path class="p" d="M3,-2.2 L17,-2.2 Q18.6,-2.2 18.6,0 Q18.6,2.2 17,2.2 L3,2.2 Z"/><rect x="10.00" y="-1.7000000000000002" width="7.00" height="3.4000000000000004" fill="#a8a8a8"/><path class="t" d="M16.80,-2.2 L15.80,2.2 M15.40,-2.2 L14.40,2.2 M14.00,-2.2 L13.00,2.2 M12.60,-2.2 L11.60,2.2 M11.20,-2.2 L10.20,2.2 " style="stroke:#222;stroke-width:.9"/><path class="p" d="M0,-3.8 L3,-3.8 A1.60,3.8 0 0 1 3,3.8 L0,3.8 A1.60,3.8 0 0 1 0,-3.8 Z"/><path class="n" d="M0,-3.8 A1.60,3.8 0 0 1 0,3.8" style="stroke-width:.8"/></g>
<g transform="translate(320.6,407.6) rotate(-20)"><ellipse class="p" cx="-1.2" cy="0" rx="3.2" ry="4.2" style="stroke-width:1.25"/><ellipse class="p" cx="0" cy="0" rx="3.2" ry="4.2" style="stroke-width:1.25"/><ellipse class="p" cx="0" cy="0" rx="1.34" ry="1.76" style="stroke-width:1.06"/></g>
<g transform="translate(343.4,421.8) rotate(29.48)"><path class="p" style="stroke-width:1.25" d="M0,-3.5 H5.28 A2.10,3.5 0 0 1 5.28,3.5 H0 A2.10,3.5 0 0 1 0,-3.5 Z"/><ellipse class="p" style="stroke-width:1.25" cx="5.28" cy="0" rx="2.10" ry="3.5"/><ellipse class="p" cx="5.28" cy="0" rx="1.16" ry="2.03" style="stroke-width:1.00"/></g>
<g transform="translate(354.8,428.2) rotate(-20)"><ellipse class="p" cx="-1.2" cy="0" rx="3.4" ry="4.4" style="stroke-width:1.25"/><ellipse class="p" cx="0" cy="0" rx="3.4" ry="4.4" style="stroke-width:1.25"/><ellipse class="p" cx="0" cy="0" rx="1.43" ry="1.85" style="stroke-width:1.06"/></g>
<g transform="translate(361.90000000000003,431.84999999999997) rotate(28.93)"><path class="p" style="stroke-width:1.3" d="M0,-3.9 H4.34 A2.34,3.9 0 0 1 4.34,3.9 H0 A2.34,3.9 0 0 1 0,-3.9 Z"/><ellipse class="p" style="stroke-width:1.3" cx="4.34" cy="0" rx="2.34" ry="3.9"/><ellipse class="p" cx="4.34" cy="0" rx="1.29" ry="2.26" style="stroke-width:1.04"/></g>
<path class="t" d="M362.2,429.6 L366.0,431.6 M361.2,434.4 L364.8,436.4" style="stroke:#333;stroke-width:.7"/>
</g>
<path class="p" d="M730.4,476 L736,473 V477.6 L738.7,479 V486.5 L730.4,481.5 Z" style="stroke-width:1"/>
<path class="p" d="M731.6,412.6 L779,385 Q781,384.2 782.6,385.6 L789.4,392.4 Q791.2,394.4 791.2,397 V463 Q791.2,465 789.4,466.2 L744,494.2 Q742,495.2 740.4,494 L739.4,493 Q738.6,492 738.6,490.4 V428 Q738.6,425.6 737,423.6 L731.6,416.6 Q730.4,414.4 731.6,412.6 Z"/>
<path class="n" d="M741.6,430 V491.6 Q741.8,493 743.4,492.6 M741.6,430 Q741.6,427.4 740,425.4 L733.4,417.4" style="stroke-width:.9"/>
<path class="n" d="M733.4,417.6 L739.4,419.4 L786,392.2 M741.8,429 L790.8,401.4" style="stroke-width:.7;stroke:#444"/>
<path class="p" d="M744.2,411.7 L749.9,424.1 L758.7,419.7 L757.9,406.9 L769.9,400.4 L773.1,410.9 L781.1,406.9 L775.1,393.6 Z" style="stroke-width:1.05"/>
<path class="n" d="M746.8,412.4 L751.4,421.2 L756.2,418.8 M749.9,424.1 L751.4,421.2 M756.2,418.8 L755.6,408.4 M776.4,395.4 L780.2,404.8 M773.1,410.9 L774.4,408 L780.2,404.8 M769.9,400.4 L771.4,399.8 L774.4,408 M744.2,411.7 L750.6,406.6 L757.9,404.4" style="stroke-width:.8"/>
<path class="n" d="M760.7,425.8 L771.4,419.4 L772.2,429.6 L761.1,437 Z" style="stroke-width:1.05"/>
<path class="n" d="M762.8,426.8 L763.2,434.6 L771.8,429.4 M762.8,426.8 L771.8,429.4 M770,421.2 L770.4,428.6" style="stroke-width:.7"/>
<ellipse class="p" cx="785" cy="461.6" rx="1.6" ry="2" transform="rotate(25 785 461.6)" style="stroke-width:.8"/><ellipse class="p" cx="747.4" cy="484.3" rx="1.6" ry="2" transform="rotate(25 747.4 484.3)" style="stroke-width:.8"/>
<path class="p" d="M858.6,474 L860.4,473.6 L911,501.6 Q915.6,504.6 915.8,509.6 Q915.6,514.6 911.6,515.2 Q910,515.2 908.6,514.4 L852.6,483 L851.4,480 Z"/>
<path class="n" d="M851.4,480 L859.4,475.2 L868,480 M868,480 Q866.6,482.4 869,484 L909.4,506.8 Q911.8,508.4 912.4,511.4 M868.6,480.4 L913,505 M852.2,481.6 L883.6,499 L886,497.4 M884,499.4 L884.6,500.8 L887,499.2" style="stroke-width:.85"/>
<path class="n" d="M879,490.6 L910.6,508.6 M879.6,489.8 L911,507.6" style="stroke-width:.8"/>
<ellipse class="p" cx="862.4" cy="480.3" rx="1.5" ry="1" style="stroke-width:.8"/>
<path class="n" d="M879,492.2 L910.6,509" style="stroke-width:1.5"/>
<g transform="translate(859.2,504.6) rotate(-20)"><ellipse class="p" cx="-1.2" cy="0" rx="3.7" ry="4.8" style="stroke-width:1.25"/><ellipse class="p" cx="0" cy="0" rx="3.7" ry="4.8" style="stroke-width:1.25"/><ellipse class="p" cx="0" cy="0" rx="1.55" ry="2.02" style="stroke-width:1.06"/></g>
<g transform="translate(868.1,509.55) rotate(28.93)"><path class="p" style="stroke-width:1.3" d="M0,-4.2 H4.34 A2.52,4.2 0 0 1 4.34,4.2 H0 A2.52,4.2 0 0 1 0,-4.2 Z"/><ellipse class="p" style="stroke-width:1.3" cx="4.34" cy="0" rx="2.52" ry="4.2"/><ellipse class="p" cx="4.34" cy="0" rx="1.39" ry="2.44" style="stroke-width:1.04"/></g>
<path class="t" d="M868.4,507.00000000000006 L872.2,509.00000000000006 M867.4,512.4000000000001 L871,514.4000000000001" style="stroke:#333;stroke-width:.7"/>
<g transform="translate(821.7,526.5) rotate(-20)"><ellipse class="p" cx="-1.2" cy="0" rx="3.7" ry="4.8" style="stroke-width:1.25"/><ellipse class="p" cx="0" cy="0" rx="3.7" ry="4.8" style="stroke-width:1.25"/><ellipse class="p" cx="0" cy="0" rx="1.55" ry="2.02" style="stroke-width:1.06"/></g>
<g transform="translate(830.1,531.5500000000001) rotate(28.93)"><path class="p" style="stroke-width:1.3" d="M0,-4.2 H4.34 A2.52,4.2 0 0 1 4.34,4.2 H0 A2.52,4.2 0 0 1 0,-4.2 Z"/><ellipse class="p" style="stroke-width:1.3" cx="4.34" cy="0" rx="2.52" ry="4.2"/><ellipse class="p" cx="4.34" cy="0" rx="1.39" ry="2.44" style="stroke-width:1.04"/></g>
<path class="t" d="M830.4,529.0 L834.2,531.0 M829.4,534.4000000000001 L833,536.4000000000001" style="stroke:#333;stroke-width:.7"/>
<path class="ax" d="M281,79 V256"/>
<path class="ax" d="M283,147.5 L304,159.8"/>
<path class="ax" d="M762.6,352 V404"/>
<path class="ax" d="M772,430 L792,442"/>
<path class="ax" d="M785.4,462 L793,466.4"/>
<path class="ax" d="M748,484.8 L760,491.8"/>
<path class="ld" d="M40.4,58.3 H47.9 L66.5,79.9"/>
<text class="lb" x="25.5" y="62.5" text-anchor="start">18</text>
<path class="ld" d="M73.4,103.3 H79.4 L95.2,86.5"/>
<text class="lb" x="66.5" y="106.9" text-anchor="start">1</text>
<path class="ld" d="M134.8,104.8 H142.3 L163.2,81.4"/>
<text class="lb" x="121.3" y="108.3" text-anchor="start">16</text>
<path class="ld" d="M209.6,50.8 L183.3,46.4"/>
<text class="lb" x="212" y="55" text-anchor="start">8</text>
<path class="ld" d="M197.7,66.4 H190.2 L175.2,51.4"/>
<text class="lb" x="199.2" y="70.3" text-anchor="start">11</text>
<path class="ld" d="M197.7,193.7 H190.2 L175.2,160.8"/>
<text class="lb" x="199.2" y="197.3" text-anchor="start">3</text>
<path class="ld" d="M218,216.2 H224.6 L259.1,172.7"/>
<text class="lb" x="203.7" y="220" text-anchor="start">20</text>
<path class="ld" d="M492.6,176.5 H486.3 L463.3,207.3"/>
<text class="lb" x="493.2" y="180.4" text-anchor="start">2</text>
<path class="ld" d="M488.1,210.9 H482.1 L464.2,233.4"/>
<text class="lb" x="488.7" y="214.8" text-anchor="start">11</text>
<path class="ld" d="M437.2,279.8 H443.8 Q451,277 457.3,267.2"/>
<text class="lb" x="424.3" y="283.4" text-anchor="start">11</text>
<path class="ld" d="M437.2,301.4 H443.8 L460.9,275.3"/>
<text class="lb" x="429.7" y="305.3" text-anchor="start">8</text>
<path class="ld" d="M473.2,311.8 H479.7 L511.2,279.8"/>
<text class="lb" x="458.2" y="315.7" text-anchor="start">21</text>
<path class="ld" d="M234.4,343.6 H242.2 L267.9,368.6"/>
<text class="lb" x="220" y="348" text-anchor="start">19</text>
<path class="ld" d="M332.9,350.5 H317.5 L302.1,393.6"/>
<text class="lb" x="336.4" y="359.4" text-anchor="start">5</text>
<path class="ld" d="M342.2,369.3 H332.3 L322.7,404.5"/>
<text class="lb" x="343.2" y="373.7" text-anchor="start">10</text>
<path class="ld" d="M381.5,388.1 H367.8 L345.8,418.7"/>
<text class="lb" x="382.6" y="392.6" text-anchor="start">12</text>
<path class="ld" d="M329.6,465.2 H337.6 L353.3,431"/>
<text class="lb" x="314.1" y="470" text-anchor="start">10</text>
<path class="ld" d="M334.2,485.4 H342.8 L363.3,436.5"/>
<text class="lb" x="326.7" y="489.5" text-anchor="start">9</text>
<path class="ld" d="M548.4,391 H541.6 L522.8,352.7"/>
<text class="lb" x="550.8" y="395.4" text-anchor="start">4</text>
<path class="ld" d="M621.3,393.7 H628.9 L640.8,385.2"/>
<text class="lb" x="607.7" y="398.9" text-anchor="start">15</text>
<path class="ld" d="M638.5,408.1 H646 L658,388.6"/>
<text class="lb" x="630.6" y="414.3" text-anchor="start">7</text>
<path class="ld" d="M663.8,314 H657.3 L650.1,349.2"/>
<text class="lb" x="664.8" y="318.4" text-anchor="start">14</text>
<path class="ld" d="M711,311.6 H704.2 L694.9,327"/>
<text class="lb" x="712.7" y="315.7" text-anchor="start">6</text>
<path class="ld" d="M615.2,458.1 H623.7 L649.4,433.1"/>
<text class="lb" x="600.5" y="462.9" text-anchor="start">10</text>
<path class="ld" d="M635.7,477.6 H643.6 L666.5,444.4"/>
<text class="lb" x="621" y="482.2" text-anchor="start">13</text>
<path class="ld" d="M813.5,395.9 H806.6 L785.1,423.3"/>
<text class="lb" x="814.5" y="400.4" text-anchor="start">20</text>
<path class="ld" d="M891.5,447.3 H884.7 L874.4,481.5"/>
<text class="lb" x="892.9" y="451.7" text-anchor="start">17</text>
<path class="ld" d="M801.5,555.8 H808.4 L820.3,530.4"/>
<text class="lb" x="786.1" y="560.2" text-anchor="start">10</text>
<path class="ld" d="M801.5,567.7 H808.4 L828.9,538"/>
<text class="lb" x="793" y="572.2" text-anchor="start">9</text>
<path class="ld" d="M719.4,633.5 H726.2 L754.6,659.1"/>
<text class="lb" x="705.7" y="637.9" text-anchor="start">19</text>
<path d="M462,377.6 h1.2 M464.4,376 h2.6 M470.4,378 h1 M472.6,378 h1 M474.8,378 h1" stroke="#444" stroke-width="1" fill="none"/>
<!-- WATERMARK -->
<g id="wm" style="mix-blend-mode:multiply">
<defs>
<clipPath id="shc"><path d="M335,417 C353,478 418,527 467.5,547.5 C517,527 582,478 600,417 Z"/></clipPath>
<g id="ear">
<path class="wt" d="M0,-12 L12.4,-6 L12.4,5.5 L0,12 L-12.4,5.5 L-12.4,-6 Z"/>
<path class="wt" d="M-2.2,12 V97 M2.2,12 V97"/>
<path class="wt" d="M-2.2,13.5 L-18.8,7 V20 L-2.2,26.5 M-2.2,28.1 L-18.8,21.6 V34.6 L-2.2,41.1 M-2.2,42.7 L-18.8,36.2 V49.2 L-2.2,55.7 M-2.2,57.3 L-18.8,50.8 V63.8 L-2.2,70.3 M-2.2,71.9 L-18.8,65.4 V78.4 L-2.2,84.9 M-2.2,86.5 L-18.8,80 V93 L-2.2,99.5"/>
<path class="wt" d="M2.2,13.5 L18.8,7 V20 L2.2,26.5 M2.2,28.1 L18.8,21.6 V34.6 L2.2,41.1 M2.2,42.7 L18.8,36.2 V49.2 L2.2,55.7 M2.2,57.3 L18.8,50.8 V63.8 L2.2,70.3 M2.2,71.9 L18.8,65.4 V78.4 L2.2,84.9 M2.2,86.5 L18.8,80 V93 L2.2,99.5"/>
</g>
<g id="earL">
<path class="wt" d="M0,-12 L12.4,-6 L12.4,5.5 L0,12 L-12.4,5.5 L-12.4,-6 Z"/>
<path class="wt" d="M-2.2,12 V110 M2.2,12 V110"/>
<path class="wt" d="M-2.2,13.5 L-19.2,6.8 V19.8 L-2.2,26.5 M-2.2,28.1 L-19.2,21.4 V34.4 L-2.2,41.1 M-2.2,42.7 L-19.2,36.0 V49.0 L-2.2,55.7 M-2.2,57.3 L-19.2,50.6 V63.6 L-2.2,70.3 M-2.2,71.9 L-19.2,65.2 V78.2 L-2.2,84.9 M-2.2,86.5 L-19.2,79.8 V92.8 L-2.2,99.5 M-2.2,101.1 L-19.2,94.4 V107.4 L-2.2,114.1 "/>
<path class="wt" d="M2.2,13.5 L12.7,9.4 V22.4 L2.2,26.5 M2.2,28.1 L12.7,24.0 V37.0 L2.2,41.1 M2.2,42.7 L12.7,38.6 V51.6 L2.2,55.7 M2.2,57.3 L12.7,53.2 V66.2 L2.2,70.3 M2.2,71.9 L12.7,67.8 V80.8 L2.2,84.9 M2.2,86.5 L12.7,82.4 V95.4 L2.2,99.5 M2.2,101.1 L12.7,97.0 V110.0 L2.2,114.1 "/>
</g>
<g id="earR">
<path class="wt" d="M0,-12 L12.4,-6 L12.4,5.5 L0,12 L-12.4,5.5 L-12.4,-6 Z"/>
<path class="wt" d="M-2.2,12 V110 M2.2,12 V110"/>
<path class="wt" d="M-2.2,13.5 L-12.7,9.4 V22.4 L-2.2,26.5 M-2.2,28.1 L-12.7,24.0 V37.0 L-2.2,41.1 M-2.2,42.7 L-12.7,38.6 V51.6 L-2.2,55.7 M-2.2,57.3 L-12.7,53.2 V66.2 L-2.2,70.3 M-2.2,71.9 L-12.7,67.8 V80.8 L-2.2,84.9 M-2.2,86.5 L-12.7,82.4 V95.4 L-2.2,99.5 M-2.2,101.1 L-12.7,97.0 V110.0 L-2.2,114.1 "/>
<path class="wt" d="M2.2,13.5 L19.2,6.8 V19.8 L2.2,26.5 M2.2,28.1 L19.2,21.4 V34.4 L2.2,41.1 M2.2,42.7 L19.2,36.0 V49.0 L2.2,55.7 M2.2,57.3 L19.2,50.6 V63.6 L2.2,70.3 M2.2,71.9 L19.2,65.2 V78.2 L2.2,84.9 M2.2,86.5 L19.2,79.8 V92.8 L2.2,99.5 M2.2,101.1 L19.2,94.4 V107.4 L2.2,114.1 "/>
</g>
</defs>
<!-- shield top -->
<path class="wm" d="M313,286 V218 Q313,214.5 316.5,214 Q467.5,169 618.5,214 Q622,214.5 622,218 V286"/>
<path class="wt" d="M321,284 V229 Q321,224.5 325.5,224 Q467.5,177 609.5,224 Q614,224.5 614,229 V284"/>
<!-- box -->
<rect class="wm" x="287" y="284" width="361" height="133" rx="46" ry="52"/>
<!-- shield bottom -->
<path class="wm" d="M326,417 C359,502 418,536 467.5,557.5 C517,536 576,502 609,417"/>
<path class="wt" d="M335,417 C353,478 418,527 467.5,547.5 C517,527 582,478 600,417"/>
<g clip-path="url(#shc)">
<use href="#earL" transform="translate(413,476) rotate(-27) scale(.78)"/>
<use href="#earR" transform="translate(522,476) rotate(27) scale(.78)"/>
<path d="M467.4,437.5 L479.8,443.5 V455 L486.2,456.5 V560 H448.6 V456.5 L455,455 V443.5 Z" fill="#fff"/>
<use href="#ear" transform="translate(467.4,449.5)"/>
</g>
<!-- letters -->
<g font-family="'Liberation Sans',sans-serif" font-weight="bold" font-size="122.8" stroke-linejoin="miter">
<g fill="none" stroke="#b0b0b0" stroke-width="8.6">
<text transform="translate(315.7,390) scale(1.0685,1)">Э</text>
<text transform="translate(416,390) scale(1.117,1)">П</text>
<text transform="translate(521.2,390) scale(1.065,1)">Ф</text>
</g>
<g fill="#fff" stroke="#fff" stroke-width="5.4">
<text transform="translate(315.7,390) scale(1.0685,1)">Э</text>
<text transform="translate(416,390) scale(1.117,1)">П</text>
<text transform="translate(521.2,390) scale(1.065,1)">Ф</text>
</g>
</g>
<text class="wl" x="361" y="260.6" font-size="26" textLength="76" lengthAdjust="spacingAndGlyphs" style="stroke-width:1.2;stroke:#a8a8a8">ТЕХНИКА</text>
<text class="wl" x="498.5" y="260.6" font-size="26" textLength="88" lengthAdjust="spacingAndGlyphs" style="stroke-width:1.2;stroke:#a8a8a8">ЗАПЧАСТИ</text>
<!-- gear -->
<g transform="translate(468.3,251.9) scale(1.03)" class="wt">
<circle r="4.2"/>
<path d="M-1.8,-10 L1.8,-10 L2.4,-7.4 L4.6,-6.3 L6.9,-7.6 L9.1,-4.6 L7.2,-2.8 L7.6,-0.4 L10,0.9 L9.1,4.4 L6.4,4.2 L4.8,6.1 L5.5,8.6 L2.3,10 L0.8,7.8 L-1.6,7.7 L-3.2,9.8 L-6.3,8.1 L-5.4,5.6 L-6.8,3.6 L-9.5,3.6 L-10,0 L-7.6,-1 L-7.1,-3.4 L-9,-5.3 L-6.6,-8 L-4.4,-6.6 L-2.3,-7.5 Z"/>
</g>
</g>

</svg>
</body></html>
